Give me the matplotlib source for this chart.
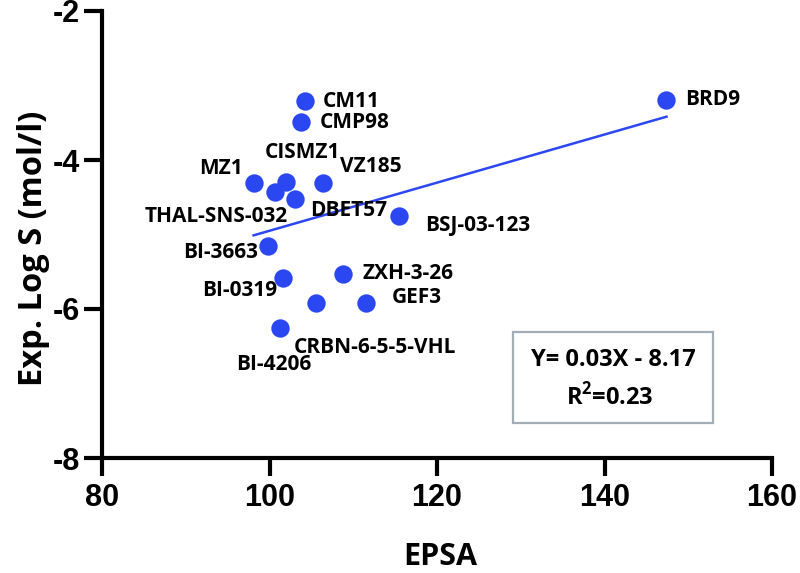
import matplotlib
matplotlib.use("Agg")
import matplotlib.pyplot as plt
from matplotlib.patches import Rectangle
import numpy as np

plt.rcParams['axes.unicode_minus'] = False

# ---- data ----
names = ["BRD9", "CM11", "CMP98", "MZ1", "CISMZ1", "THAL-SNS-032", "DBET57",
         "VZ185", "BSJ-03-123", "BI-3663", "BI-0319", "ZXH-3-26",
         "CRBN-6-5-5-VHL", "GEF3", "BI-4206"]
epsa = [147.4, 104.2, 103.8, 98.1, 102.0, 100.6, 103.1,
        106.4, 115.5, 99.8, 101.6, 108.8, 105.6, 111.5, 101.2]
logs = [-3.19, -3.21, -3.49, -4.31, -4.29, -4.43, -4.53,
        -4.31, -4.75, -5.16, -5.59, -5.53, -5.92, -5.92, -6.25]
fit_slope = 0.0323
fit_intercept = -8.18
xticks = [80, 100, 120, 140, 160]
yticks = [-8, -6, -4, -2]
eq_text = "Y= 0.03X - 8.17"
r2_text = "R$^{\\mathbf{2}}$=0.23"

# label offsets in pixels (dx, dy, ha)
offsets = {
    "BRD9": (19, 0, "left"),
    "CM11": (18, 0, "left"),
    "CMP98": (18, 0, "left"),
    "CISMZ1": (16, 29, "center"),
    "MZ1": (-11, 15, "right"),
    "VZ185": (17, 17, "left"),
    "THAL-SNS-032": (13, -24, "right"),
    "DBET57": (15, -11, "left"),
    "BSJ-03-123": (26, -10, "left"),
    "BI-3663": (-10, -6, "right"),
    "BI-0319": (-6, -12, "right"),
    "ZXH-3-26": (19, 0, "left"),
    "GEF3": (26, 6, "left"),
    "CRBN-6-5-5-VHL": (59, -44, "center"),
    "BI-4206": (-6, -37, "center"),
}

blue = "#2b47f2"
lab_font = "Open Sans"
tick_font = "Liberation Sans"
plt.rcParams['mathtext.fontset'] = 'custom'
plt.rcParams['mathtext.bf'] = 'Open Sans:bold'
plt.rcParams['mathtext.rm'] = 'Open Sans:bold'

fig = plt.figure(figsize=(8, 5.73), dpi=100)
ax = fig.add_axes([102/800, 1-458/573, (772-102)/800, (458-11)/573])

ax.scatter(epsa, logs, s=175, color=blue, zorder=3, linewidths=0)
xs = np.array([min(epsa), max(epsa)])
ax.plot(xs, fit_slope*xs + fit_intercept, color=blue, lw=1.8, zorder=2)

for n, x, y in zip(names, epsa, logs):
    dx, dy, ha = offsets[n]
    ax.annotate(n, (x, y), xytext=(dx, dy), textcoords="offset pixels",
                ha=ha, va="center", fontsize=15, fontweight="bold",
                family=lab_font, color="black", zorder=4)

ax.set_xlim(80, 160)
ax.set_ylim(-8, -2)
ax.set_xticks(xticks)
ax.set_yticks(yticks)
ax.set_xticklabels([str(v) for v in xticks], fontsize=22, fontweight="bold", family=tick_font)
ax.set_yticklabels([str(v) for v in yticks], fontsize=22, fontweight="bold", family=tick_font)
ax.tick_params(axis="both", width=3, length=13, direction="out", color="black")
ax.tick_params(axis="x", pad=5)
ax.tick_params(axis="y", pad=3)
for s in ["top", "right"]:
    ax.spines[s].set_visible(False)
for s in ["left", "bottom"]:
    ax.spines[s].set_linewidth(3)
ax.spines["left"].set_bounds(-8, -2)

# equation box (figure pixel placement)
box = Rectangle((513/800, 1-423/573), 200/800, 91/573, transform=fig.transFigure,
                facecolor="white", edgecolor="#a3adb8", lw=1.6, zorder=5)
fig.patches.append(box)
fig.text(613/800, 1-360/573, eq_text, ha="center", va="center", fontsize=17,
         fontweight="bold", family=lab_font, color="black", zorder=6)
fig.text(610/800, 1-397/573, r2_text, ha="center", va="center", fontsize=17,
         fontweight="bold", family=lab_font, color="black", zorder=6)

fig.text(440/800, 1-557/573, "EPSA", ha="center", va="center", fontsize=22,
         fontweight="bold", family=lab_font, color="black")
fig.text(34/800, 1-248/573, "Exp. Log S (mol/l)", ha="center", va="center",
         rotation=90, fontsize=23.5, fontweight="bold", family=lab_font, color="black")

fig.savefig("out.png", dpi=100)
